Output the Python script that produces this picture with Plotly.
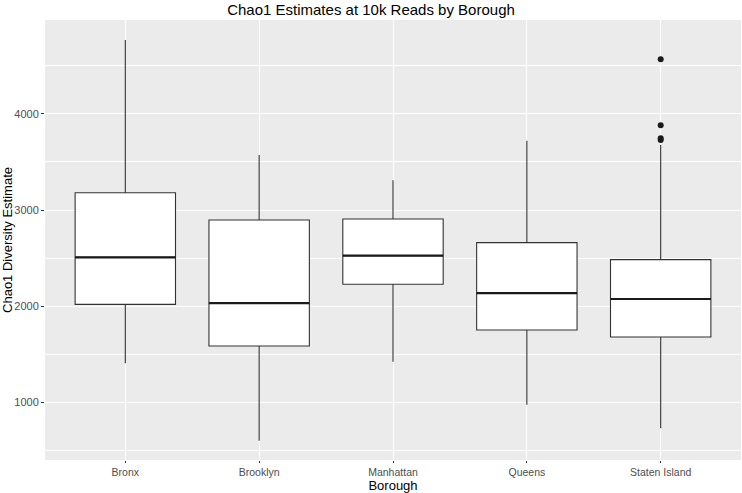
import plotly.graph_objects as go

boroughs = ["Bronx", "Brooklyn", "Manhattan", "Queens", "Staten Island"]
lower_whisker = [1403, 597, 1420, 972, 726]
q1 = [2017, 1583, 2226, 1750, 1677]
median = [2507, 2031, 2524, 2135, 2073]
q3 = [3180, 2896, 2906, 2660, 2483]
upper_whisker = [4771, 3573, 3309, 3722, 3677]

outlier_borough = ["Staten Island", "Staten Island", "Staten Island", "Staten Island"]
outlier_value = [4570, 3882, 3748, 3728]

fig = go.Figure()
fig.add_trace(go.Box(
    x=boroughs, q1=q1, median=median, q3=q3,
    lowerfence=lower_whisker, upperfence=upper_whisker,
    fillcolor="white", line=dict(color="#333333", width=1.1),
    whiskerwidth=0, width=0.75, boxpoints=False, showlegend=False,
    hoverinfo="skip",
))
# thicker median line like ggplot
fig.add_trace(go.Scatter(
    x=boroughs, y=median, mode="markers",
    marker=dict(symbol="line-ew", size=71.8, line=dict(color="#1a1a1a", width=2.2)),
    showlegend=False, hoverinfo="skip",
))
fig.add_trace(go.Scatter(
    x=outlier_borough, y=outlier_value, mode="markers",
    marker=dict(color="#1a1a1a", size=6), showlegend=False,
))

font = "Liberation Sans, Arial, Helvetica, sans-serif"
fig.update_layout(
    width=742, height=493,
    margin=dict(l=45, r=1, t=20, b=33),
    paper_bgcolor="white", plot_bgcolor="#EBEBEB",
    font=dict(family=font, color="black"),
    title=dict(text="Chao1 Estimates at 10k Reads by Borough", x=0.5, xanchor="center",
               y=1 - 10 / 493, yanchor="middle", yref="container", font=dict(size=15, color="black")),
)
fig.update_xaxes(
    type="category", categoryorder="array", categoryarray=boroughs,
    range=[-0.6, 4.6], showgrid=True, gridcolor="white", gridwidth=1.1,
    ticks="outside", ticklen=2, tickcolor="#333333", tickwidth=1,
    tickfont=dict(size=10.5, color="#4d4d4d"), zeroline=False, showline=False,
    title=dict(text="Borough", font=dict(size=13, color="black"), standoff=10),
    automargin=False,
)
fig.update_yaxes(
    range=[396, 4979], tickvals=[1000, 2000, 3000, 4000],
    showgrid=True, gridcolor="white", gridwidth=1.1,
    minor=dict(tickvals=[500, 1500, 2500, 3500, 4500], showgrid=True, gridcolor="white", gridwidth=0.5, ticks=""),
    ticks="outside", ticklen=3, tickcolor="#333333", tickwidth=1,
    tickfont=dict(size=11, color="#4d4d4d"), zeroline=False, showline=False,
    title=dict(text="Chao1 Diversity Estimate", font=dict(size=13, color="black"), standoff=3),
    automargin=False,
)

fig.write_html("out.html", config={"displayModeBar": False},
               post_script="document.body.style.margin='0';")
